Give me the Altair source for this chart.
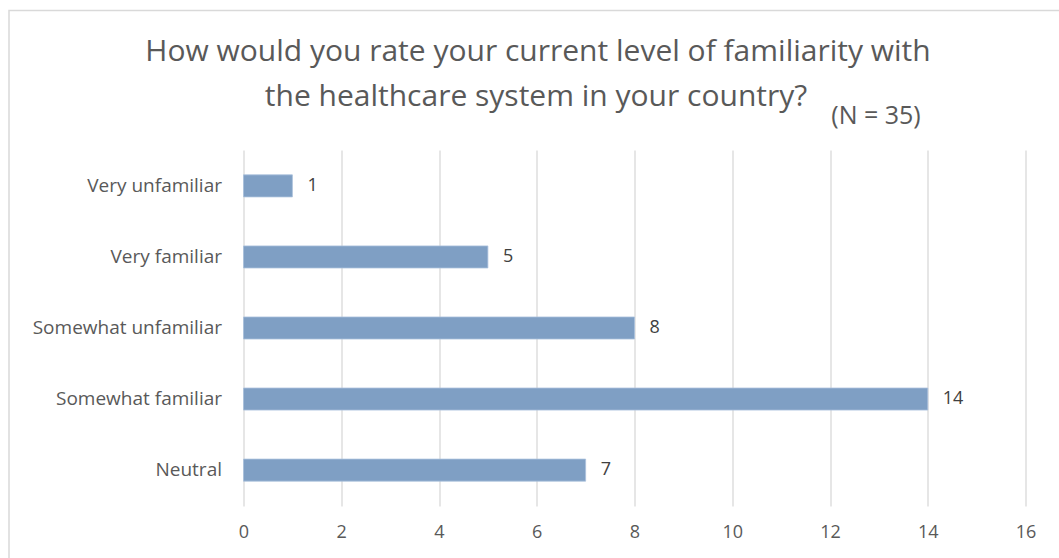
import altair as alt
import pandas as pd

categories = ["Very unfamiliar", "Very familiar", "Somewhat unfamiliar", "Somewhat familiar", "Neutral"]
counts = [1, 5, 8, 14, 7]
x_ticks = [0, 2, 4, 6, 8, 10, 12, 14, 16]
title_lines = ["How would you rate your current level of familiarity with",
               "the healthcare system in your country?"]
note = "(N = 35)"

df = pd.DataFrame({"category": categories, "count": counts})

FONT = "Open Sans"
GREY = "#595959"
W, H = 782, 356

y_enc = alt.Y("category:N", sort=categories, title=None,
              scale=alt.Scale(paddingInner=0.69, paddingOuter=0.35),
              axis=alt.Axis(domain=False, ticks=False, labelFont=FONT, labelFontSize=19,
                            labelColor=GREY, labelPadding=22, labelLimit=400, grid=False))
x_enc = alt.X("count:Q", title=None,
              scale=alt.Scale(domain=[0, 16], nice=False),
              axis=alt.Axis(values=x_ticks, domain=False, ticks=False, labelFont=FONT,
                            labelFontSize=18, labelColor=GREY, labelPadding=17,
                            labelFlush=False,
                            grid=True, gridColor="#d9d9d9", gridWidth=1.3))

bars = alt.Chart(df).mark_bar(color="#7f9fc4", stroke="#a9c0dc", strokeWidth=0.8).encode(x=x_enc, y=y_enc)
labels = alt.Chart(df).mark_text(align="left", dx=15, font=FONT, fontSize=18, color="#404040").encode(
    x="count:Q", y=alt.Y("category:N", sort=categories), text="count:Q")

t1 = alt.Chart(pd.DataFrame({"t": [title_lines[0]]})).mark_text(
    font=FONT, fontSize=30, color=GREY, align="center", baseline="middle").encode(
    text="t:N", x=alt.value(538 - 243.5), y=alt.value(52 - 150))
t2 = alt.Chart(pd.DataFrame({"t": [title_lines[1]]})).mark_text(
    font=FONT, fontSize=30, color=GREY, align="center", baseline="middle").encode(
    text="t:N", x=alt.value(536 - 243.5), y=alt.value(97 - 150))
t3 = alt.Chart(pd.DataFrame({"t": [note]})).mark_text(
    font=FONT, fontSize=25, color=GREY, align="center", baseline="middle").encode(
    text="t:N", x=alt.value(876 - 243.5), y=alt.value(116 - 150))

border = alt.Chart(pd.DataFrame({"a": [0]})).mark_rect(
    fill=None, stroke="#d9d9d9", strokeWidth=1.5).encode(
    x=alt.value(9 - 243.5), x2=alt.value(1080 - 243.5), y=alt.value(10.5 - 150), y2=alt.value(600 - 150))

chart = alt.layer(border, bars, labels, t1, t2, t3).properties(
    width=W, height=H,
    autosize=alt.AutoSizeParams(type="none"),
    padding={"left": 243.5, "top": 150, "right": 33, "bottom": 52},
    background="white",
).configure_view(stroke=None)

chart.save("out.html", embed_options={"renderer": "svg", "actions": False})
